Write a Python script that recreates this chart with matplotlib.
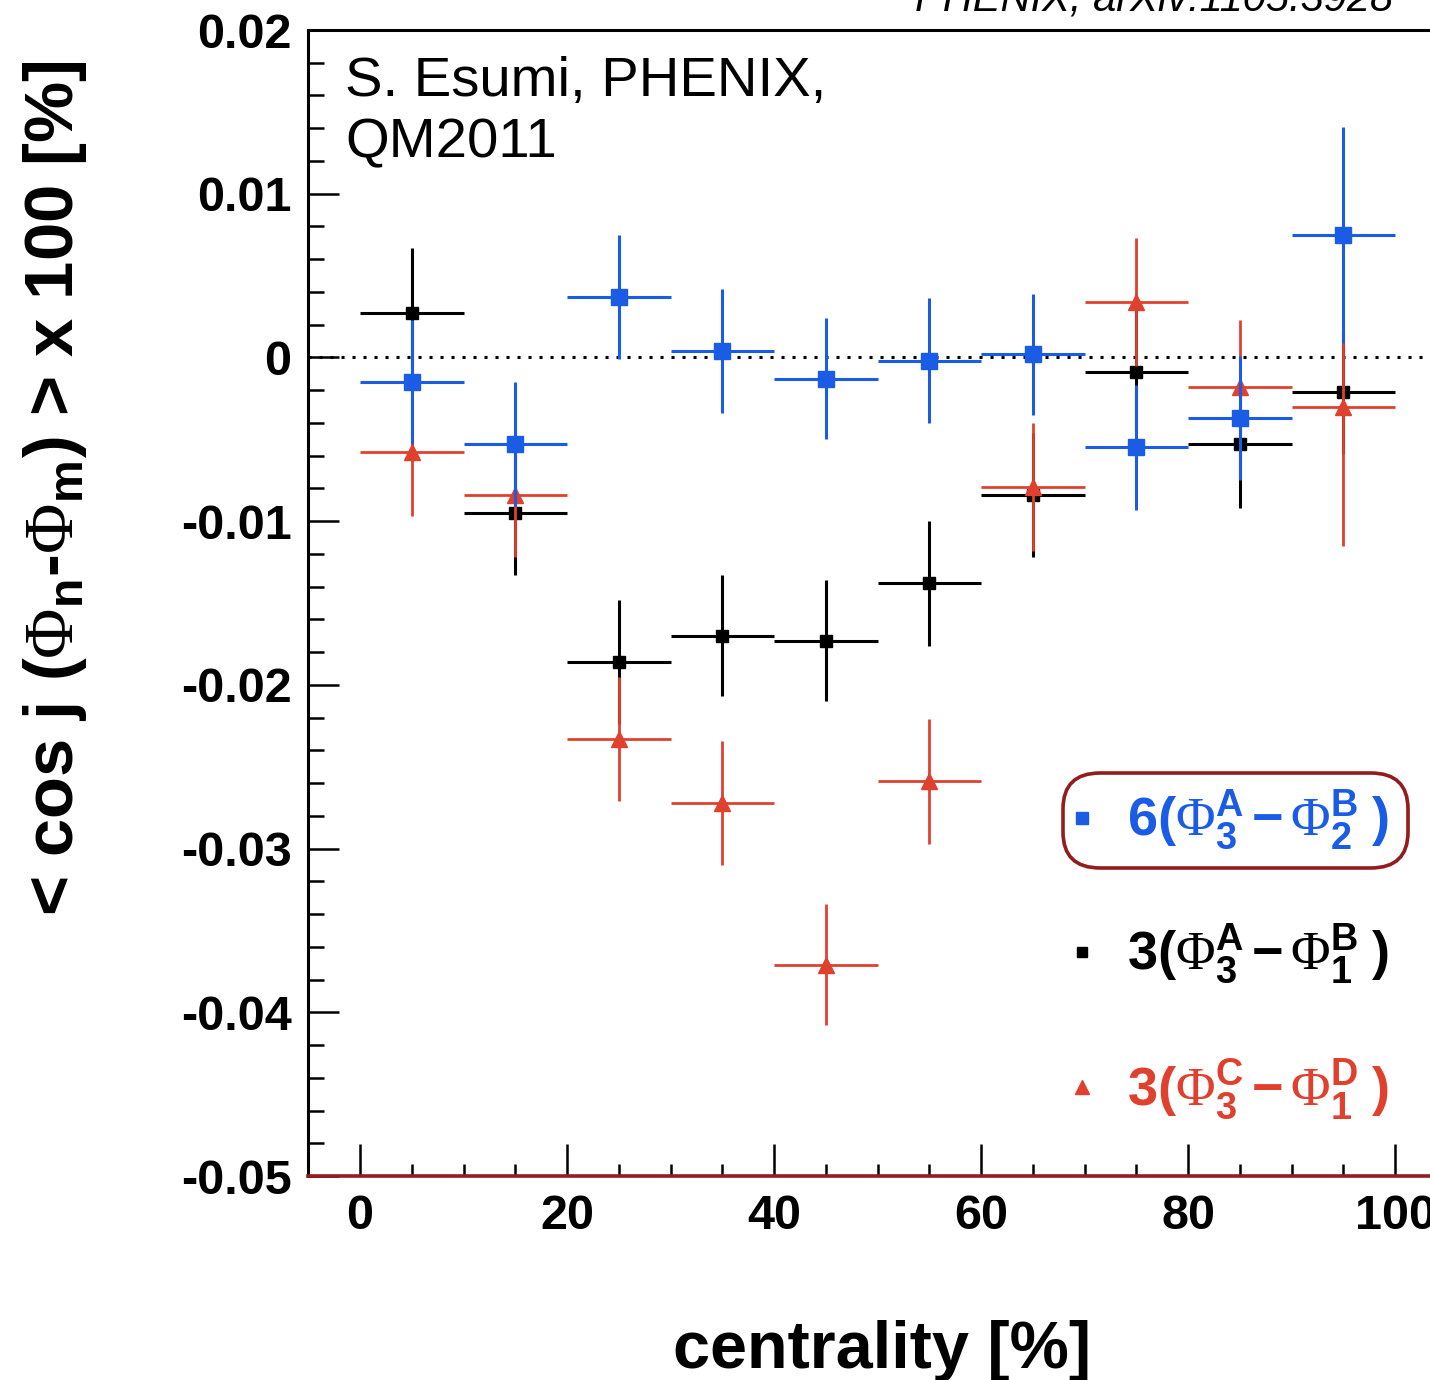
import matplotlib
matplotlib.use('Agg')
import matplotlib.pyplot as plt
from matplotlib.ticker import MultipleLocator, FuncFormatter
from matplotlib.patches import FancyBboxPatch
from matplotlib.lines import Line2D

# ---------------- data ----------------
centrality = [5, 15, 25, 35, 45, 55, 65, 75, 85, 95]
bin_half_width = [5, 5, 5, 5, 5, 5, 5, 5, 5, 5]

blue_vals = [-0.0015, -0.0053, 0.0037, 0.0004, -0.0013, -0.0002, 0.0002, -0.0055, -0.0037, 0.0075]
blue_errs = [0.0038, 0.0038, 0.0038, 0.0038, 0.0037, 0.0038, 0.0037, 0.0038, 0.0038, 0.0066]

black_vals = [0.0027, -0.0095, -0.0186, -0.0170, -0.0173, -0.0138, -0.0084, -0.0009, -0.0053, -0.0021]
black_errs = [0.0040, 0.0038, 0.0038, 0.0037, 0.0037, 0.0038, 0.0038, 0.0038, 0.0039, 0.0038]

red_vals = [-0.0058, -0.0084, -0.0233, -0.0272, -0.0371, -0.0259, -0.0079, 0.0034, -0.0018, -0.0030]
red_errs = [0.0039, 0.0038, 0.0038, 0.0038, 0.0037, 0.0038, 0.0039, 0.0039, 0.0041, 0.0085]

x_ticks = [0, 20, 40, 60, 80, 100]
y_ticks = [-0.05, -0.04, -0.03, -0.02, -0.01, 0.0, 0.01, 0.02]

label_blue = r"$\mathbf{6(}\Phi^{\mathbf{A}}_{\mathbf{3}}\,\mathbf{-}\,\Phi^{\mathbf{B}}_{\mathbf{2}}\;\mathbf{)}$"
label_black = r"$\mathbf{3(}\Phi^{\mathbf{A}}_{\mathbf{3}}\,\mathbf{-}\,\Phi^{\mathbf{B}}_{\mathbf{1}}\;\mathbf{)}$"
label_red = r"$\mathbf{3(}\Phi^{\mathbf{C}}_{\mathbf{3}}\,\mathbf{-}\,\Phi^{\mathbf{D}}_{\mathbf{1}}\;\mathbf{)}$"
y_title = r"< cos j ($\Phi_{\mathbf{n}}$-$\Phi_{\mathbf{m}}$) > x 100 [%]"
x_title = "centrality [%]"

# ---------------- style ----------------
plt.rcParams['font.family'] = ['Liberation Sans', 'DejaVu Sans']
plt.rcParams['axes.unicode_minus'] = False
plt.rcParams['mathtext.fontset'] = 'custom'
plt.rcParams['mathtext.rm'] = 'Liberation Serif'
plt.rcParams['mathtext.bf'] = 'Liberation Sans:bold'
plt.rcParams['mathtext.it'] = 'Liberation Sans:italic'
plt.rcParams['mathtext.sf'] = 'Liberation Sans'

BLUE = '#1a5ce6'
RED = '#e0412f'
BLACK = '#000000'
DARKRED = '#931c1c'

W, H = 1430, 1380
fig = plt.figure(figsize=(W / 100, H / 100), dpi=100)

def fx(px):
    return px / W

def fy(py):
    return 1 - py / H

ax = fig.add_axes([fx(308.25), fy(1176), fx(1447) - fx(308.25), (1176 - 30) / H])
ax.set_xlim(-5, 105)
ax.set_ylim(-0.05, 0.02)

ax.axhline(0, color='black', ls=(0, (1, 2.6)), lw=2.2, zorder=1)

ax.errorbar(centrality, black_vals, xerr=bin_half_width, yerr=black_errs, fmt='s',
            color=BLACK, ms=8, elinewidth=2.2, capsize=0, zorder=2)
ax.errorbar(centrality, red_vals, xerr=bin_half_width, yerr=red_errs, fmt='^',
            color=RED, ms=11, elinewidth=2.0, capsize=0, zorder=3)
ax.errorbar(centrality, blue_vals, xerr=bin_half_width, yerr=blue_errs, fmt='s',
            color=BLUE, ms=11, elinewidth=2.2, capsize=0, zorder=4)

# axes / ticks
ax.xaxis.set_major_locator(plt.FixedLocator(x_ticks))
ax.xaxis.set_minor_locator(MultipleLocator(5))
ax.yaxis.set_major_locator(plt.FixedLocator(y_ticks))
ax.yaxis.set_minor_locator(MultipleLocator(0.002))

def yfmt(v, _):
    if abs(v) < 1e-9:
        return '0'
    return f'{v:.2f}'

ax.yaxis.set_major_formatter(FuncFormatter(yfmt))
ax.tick_params(axis='both', which='both', direction='in', top=False, right=False, colors='black')
ax.tick_params(axis='y', which='major', length=22, width=1.8, pad=12, labelsize=35)
ax.tick_params(axis='y', which='minor', length=11.5, width=1.8)
ax.tick_params(axis='x', which='major', length=23, width=1.8, pad=13, labelsize=35)
ax.tick_params(axis='x', which='minor', length=9, width=1.8)
for lab in ax.get_xticklabels() + ax.get_yticklabels():
    lab.set_fontweight('bold')

for s in ['left', 'top']:
    ax.spines[s].set_linewidth(2.2)
    ax.spines[s].set_color('black')
ax.spines['bottom'].set_linewidth(2.6)
ax.spines['bottom'].set_color(DARKRED)
ax.spines['right'].set_visible(False)

# titles
fig.text(fx(55), fy(60), y_title, rotation=90, ha='center', va='top',
         fontsize=49.5, fontweight='bold')
fig.text(fx(882), fy(1368), x_title, ha='center', va='baseline',
         fontsize=48, fontweight='bold')

# annotations
fig.text(fx(345), fy(96), 'S. Esumi, PHENIX,', ha='left', va='baseline', fontsize=40.5)
fig.text(fx(345), fy(157), 'QM2011', ha='left', va='baseline', fontsize=40.5)
fig.text(fx(1393), fy(10), 'PHENIX, arXiv:1105.3928', ha='right', va='baseline',
         fontsize=30, style='italic')

# legend (manual, ROOT-like)
entries = [(label_blue, BLUE, 's', 9, 820), (label_black, BLACK, 's', 6.5, 954), (label_red, RED, '^', 9.5, 1089)]
for lab, col, mk, ms, py in entries:
    fig.add_artist(Line2D([fx(1082)], [fy(py - 2)], marker=mk, color=col, ms=ms, ls='none',
                          transform=fig.transFigure))
    fig.text(fx(1127), fy(py), lab, ha='left', va='center', fontsize=39, color=col)

box = FancyBboxPatch((fx(1063), fy(868)), fx(1408) - fx(1063), (868 - 773) / H,
                     boxstyle='round,pad=0,rounding_size=0.026', transform=fig.transFigure,
                     fill=False, edgecolor=DARKRED, lw=2.6)
fig.add_artist(box)

fig.savefig('out.png', dpi=100)
